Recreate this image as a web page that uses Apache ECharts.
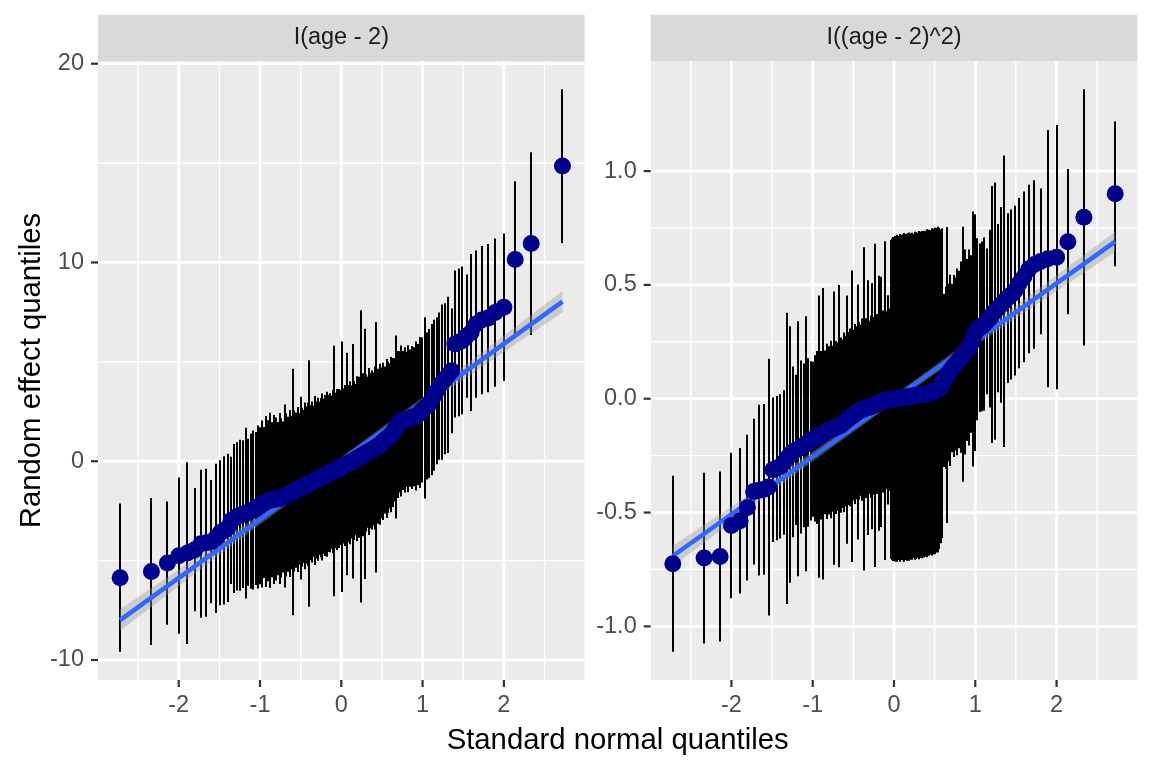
<!DOCTYPE html>
<html>
<head>
<meta charset="utf-8">
<script src="https://cdn.jsdelivr.net/npm/echarts@6/dist/echarts.min.js"></script>
<style>
html,body{margin:0;padding:0;background:#fff;}
#c{width:1152px;height:768px;}
</style>
</head>
<body>
<div id="c"></div>
<script>
// Theoretical normal quantiles (x positions shared by both panels)
const qx = [-2.721,-2.336,-2.139,-2.000,-1.893,-1.803,-1.727,-1.660,-1.597,-1.543,
-1.490,-1.444,-1.397,-1.357,-1.316,-1.279,-1.243,-1.208,-1.175,-1.144,
-1.112,-1.083,-1.055,-1.026,-0.998,-0.973,-0.947,-0.922,-0.896,-0.873,
-0.850,-0.826,-0.803,-0.781,-0.760,-0.738,-0.716,-0.695,-0.675,-0.655,
-0.635,-0.615,-0.595,-0.576,-0.557,-0.538,-0.519,-0.500,-0.482,-0.464,
-0.446,-0.428,-0.410,-0.392,-0.375,-0.358,-0.341,-0.323,-0.306,-0.289,
-0.272,-0.255,-0.239,-0.222,-0.205,-0.188,-0.172,-0.155,-0.139,-0.122,
-0.106,-0.090,-0.073,-0.057,-0.041,-0.024,-0.008,
0.008,0.024,0.041,0.057,0.073,0.090,0.106,0.122,0.139,0.155,
0.172,0.188,0.205,0.222,0.239,0.255,0.272,0.289,0.306,0.323,
0.341,0.358,0.375,0.392,0.410,0.428,0.446,0.464,0.482,0.500,
0.519,0.538,0.557,0.576,0.595,0.615,0.635,0.655,0.675,0.695,
0.716,0.738,0.760,0.781,0.803,0.826,0.850,0.873,0.896,0.922,
0.947,0.973,0.998,1.026,1.055,1.083,1.112,1.144,1.175,1.208,
1.243,1.279,1.316,1.357,1.397,1.444,1.490,1.543,1.597,1.660,
1.727,1.803,1.893,2.000,2.139,2.336,2.721];

// Panel 1: I(age - 2)
const ageY = [-5.86,-5.55,-5.12,-4.75,-4.62,-4.45,-4.15,-4.10,-4.05,-3.88,
-3.60,-3.48,-3.35,-2.98,-2.88,-2.77,-2.72,-2.66,-2.61,-2.57,
-2.52,-2.45,-2.38,-2.30,-2.24,-2.15,-2.08,-2.03,-1.99,-1.96,
-1.94,-1.92,-1.90,-1.88,-1.87,-1.85,-1.80,-1.75,-1.70,-1.66,
-1.62,-1.58,-1.55,-1.50,-1.46,-1.42,-1.39,-1.35,-1.31,-1.27,
-1.24,-1.20,-1.16,-1.12,-1.08,-1.04,-1.01,-0.97,-0.94,-0.90,
-0.86,-0.83,-0.79,-0.75,-0.72,-0.68,-0.65,-0.61,-0.58,-0.55,
-0.52,-0.49,-0.46,-0.42,-0.39,-0.36,-0.32,
-0.28,-0.24,-0.21,-0.17,-0.14,-0.11,-0.08,-0.04,0.00,0.04,
0.08,0.12,0.16,0.20,0.24,0.28,0.33,0.37,0.41,0.45,
0.49,0.53,0.57,0.62,0.66,0.70,0.75,0.80,0.86,0.92,
1.00,1.07,1.14,1.20,1.27,1.34,1.45,1.58,1.72,1.85,
1.98,2.02,2.05,2.08,2.11,2.14,2.17,2.20,2.24,2.28,
2.35,2.45,2.58,2.68,2.78,2.90,3.10,3.32,3.55,3.78,
3.98,4.15,4.35,4.55,5.90,5.98,6.08,6.30,6.48,6.90,
7.10,7.20,7.48,7.75,10.15,10.95,14.85];
const ageErr = [3.73,3.70,3.10,3.93,4.57,3.10,3.72,3.72,3.10,3.75,
3.65,3.73,3.73,3.20,3.75,3.73,3.80,3.72,4.30,3.70,
3.90,4.00,3.85,4.10,3.95,4.20,3.80,4.30,4.05,4.40,
3.90,4.25,4.10,3.85,4.30,4.00,3.80,4.60,4.10,3.90,
4.20,3.85,6.20,4.05,3.90,4.15,3.80,4.60,4.00,3.85,
4.20,3.95,4.10,6.20,3.90,4.05,3.80,4.25,3.95,4.10,
3.85,4.00,4.20,3.90,4.05,3.80,4.15,3.95,4.00,3.85,
4.10,6.30,3.90,4.05,3.80,4.00,3.90,
6.30,3.90,4.05,3.80,5.60,3.95,4.10,3.85,5.90,4.00,
3.80,4.15,3.90,4.05,7.35,3.85,4.10,6.30,3.95,3.80,
4.20,3.90,4.00,3.85,4.10,6.30,3.90,3.75,4.05,3.80,
3.95,3.70,4.00,3.80,3.65,3.90,3.75,3.60,4.60,3.70,
3.55,3.80,3.50,3.65,3.40,3.70,3.45,3.60,3.50,3.75,
3.55,3.80,3.65,4.56,3.70,3.75,3.80,
3.80,3.70,3.70,3.90,3.80,3.93,3.14,3.70,3.72,3.72,
3.10,3.95,3.70,3.73,3.73,3.73,3.71,3.94,4.60,3.87];

// Panel 2: I((age - 2)^2)
const age2Y = [-0.725,-0.700,-0.693,-0.557,-0.536,-0.478,-0.408,-0.402,-0.398,-0.388,
-0.312,-0.305,-0.297,-0.280,-0.262,-0.245,-0.233,-0.225,-0.220,-0.212,
-0.205,-0.198,-0.192,-0.185,-0.178,-0.174,-0.170,-0.166,-0.160,-0.154,
-0.148,-0.143,-0.139,-0.135,-0.132,-0.129,-0.126,-0.123,-0.120,-0.116,
-0.110,-0.104,-0.098,-0.092,-0.087,-0.082,-0.077,-0.072,-0.067,-0.062,
-0.058,-0.054,-0.051,-0.048,-0.045,-0.043,-0.041,-0.039,-0.037,-0.035,
-0.033,-0.031,-0.029,-0.026,-0.023,-0.020,-0.017,-0.014,-0.012,-0.010,
-0.008,-0.006,-0.005,-0.004,-0.003,-0.002,-0.001,
0.000,0.001,0.002,0.003,0.004,0.005,0.006,0.006,0.007,0.007,
0.008,0.009,0.010,0.011,0.012,0.013,0.014,0.015,0.016,0.017,
0.018,0.019,0.020,0.022,0.024,0.026,0.028,0.030,0.032,0.034,
0.037,0.040,0.046,0.055,0.068,0.080,0.092,0.104,0.115,0.125,
0.135,0.144,0.153,0.162,0.172,0.183,0.195,0.205,0.214,0.225,
0.240,0.262,0.290,0.305,0.312,0.318,0.328,0.340,0.352,0.370,
0.385,0.398,0.412,0.428,0.442,0.458,0.475,0.508,0.535,0.570,
0.590,0.603,0.615,0.622,0.690,0.797,0.900];
const age2Err = [0.387,0.375,0.373,0.320,0.320,0.320,0.320,0.375,0.375,0.564,
0.317,0.317,0.317,0.317,0.640,0.563,0.375,0.330,0.560,0.380,
0.360,0.560,0.370,0.350,0.340,0.365,0.380,0.620,0.370,0.640,
0.360,0.385,0.370,0.390,0.365,0.600,0.380,0.370,0.620,0.385,
0.370,0.395,0.375,0.545,0.380,0.390,0.640,0.375,0.395,0.380,
0.560,0.390,0.375,0.400,0.710,0.385,0.395,0.560,0.380,0.400,
0.540,0.390,0.710,0.380,0.395,0.560,0.385,0.550,0.400,0.385,
0.700,0.390,0.460,0.400,0.700,0.705,0.712,
0.715,0.710,0.718,0.712,0.720,0.714,0.716,0.722,0.715,0.719,
0.713,0.721,0.716,0.718,0.712,0.720,0.717,0.714,0.721,0.716,
0.719,0.713,0.718,0.715,0.720,0.716,0.712,0.719,0.715,0.717,
0.713,0.716,0.705,0.690,0.680,
0.380,0.400,0.650,0.390,0.420,0.370,0.400,0.380,0.410,0.390,
0.420,0.560,0.450,0.400,0.430,0.390,0.560,0.520,0.400,0.370,
0.373,0.380,0.320,0.390,0.565,0.565,0.370,0.430,0.640,0.373,
0.373,0.373,0.374,0.375,0.370,0.370,0.320,0.565,0.580,0.319,
0.563,0.318];

// Fitted (lm) reference lines, endpoints
const fitX = [-2.721, 2.721];
const ageFitY = [-7.99, 8.03];
const age2FitY = [-0.691, 0.690];
// Confidence ribbon half-width along the fit
const ribbonX = [-2.721, -2, -1, 0, 1, 2, 2.721];
const ageRibbon = [0.54, 0.42, 0.26, 0.19, 0.26, 0.42, 0.54];
const age2Ribbon = [0.045, 0.035, 0.022, 0.016, 0.022, 0.035, 0.045];

// Tick labels / gridlines
const xMajor = [-2, -1, 0, 1, 2];
const xMinor = [-2.5, -1.5, -0.5, 0.5, 1.5, 2.5];
const ageMajor = [-10, 0, 10, 20];
const ageMinor = [-5, 5, 15];
const age2Major = [-1.0, -0.5, 0.0, 0.5, 1.0];
const age2Minor = [-0.75, -0.25, 0.25, 0.75];

const panelTitles = ['I(age - 2)', 'I((age - 2)^2)'];
const xTitle = 'Standard normal quantiles';
const yTitle = 'Random effect quantiles';

const FONT = '"Liberation Sans", Arial, sans-serif';

function range(ys, es) {
  let lo = Infinity, hi = -Infinity;
  ys.forEach((y, i) => { lo = Math.min(lo, y - es[i]); hi = Math.max(hi, y + es[i]); });
  const pad = (hi - lo) * 0.05;
  return [lo - pad, hi + pad];
}
const xMaxAbs = Math.max(...qx.map(Math.abs));
const xr = [-(xMaxAbs * 1.1), xMaxAbs * 1.1];
const r1 = range(ageY, ageErr);
const r2 = range(age2Y, age2Err);

const GL = [98, 650.7], GW = 486.6, GT = 61, GH = 619;

// Gridlines of one panel, drawn as one group
function gridLines(idx, r, yMajor, yMinor) {
  return {type:'custom', xAxisIndex: idx, yAxisIndex: idx, silent:true, z: 1, clip:true,
    data: [[xr[0], r[0]]], encode:{x:0, y:1},
    renderItem: (p, api) => {
      const cs = p.coordSys;
      const kids = [];
      const addV = (v, w) => { const x = api.coord([v, r[0]])[0];
        kids.push({type:'line', shape:{x1:x, y1:cs.y, x2:x, y2:cs.y + cs.height}, style:{stroke:'#FFFFFF', lineWidth:w}}); };
      const addH = (v, w) => { const y = api.coord([xr[0], v])[1];
        kids.push({type:'line', shape:{x1:cs.x, y1:y, x2:cs.x + cs.width, y2:y}, style:{stroke:'#FFFFFF', lineWidth:w}}); };
      xMinor.forEach(v => addV(v, 1.4));
      yMinor.forEach(v => addH(v, 1.4));
      xMajor.forEach(v => addV(v, 2.8));
      yMajor.forEach(v => addH(v, 2.8));
      return {type:'group', children: kids};
    }};
}
// Axis tick marks outside the panel
function tickMarks(idx, r, yMajor) {
  return {type:'custom', xAxisIndex: idx, yAxisIndex: idx, silent:true, z: 1, clip:false,
    data: [[xr[0], r[0]]], encode:{x:0, y:1},
    renderItem: (p, api) => {
      const cs = p.coordSys;
      const kids = [];
      const st = {stroke:'#333333', lineWidth:2.2};
      xMajor.forEach(v => { const x = api.coord([v, r[0]])[0];
        kids.push({type:'line', shape:{x1:x, y1:cs.y + cs.height, x2:x, y2:cs.y + cs.height + 7}, style:st}); });
      yMajor.forEach(v => { const y = api.coord([xr[0], v])[1];
        kids.push({type:'line', shape:{x1:cs.x - 7, y1:y, x2:cs.x, y2:y}, style:st}); });
      return {type:'group', children: kids};
    }};
}
function bars(idx, ys, es) {
  return {type:'custom', xAxisIndex: idx, yAxisIndex: idx, silent:true, z: 3, clip:true,
    data: qx.map((x, i) => [x, ys[i], es[i]]), encode:{x:0, y:1},
    renderItem: (p, api) => {
      const x = api.value(0), y = api.value(1), h = api.value(2);
      const a = api.coord([x, y - h]), b = api.coord([x, y + h]);
      const px = Math.round(a[0]);
      return {type:'line', shape:{x1:px, y1:a[1], x2:px, y2:b[1]},
        style:{stroke:'#000000', lineWidth:2, lineCap:'butt'}};
    }};
}
function ribbon(idx, r, fy, half) {
  return {type:'custom', xAxisIndex: idx, yAxisIndex: idx, silent:true, z: 4, clip:true,
    data: [[xr[0], r[0]]], encode:{x:0, y:1},
    renderItem: (p, api) => {
      const slope = (fy[1] - fy[0]) / (fitX[1] - fitX[0]);
      const f = x => fy[0] + slope * (x - fitX[0]);
      const up = ribbonX.map((x, i) => api.coord([x, f(x) + half[i]]));
      const dn = ribbonX.map((x, i) => api.coord([x, f(x) - half[i]])).reverse();
      return {type:'polygon', shape:{points: up.concat(dn)},
        style:{fill:'rgba(153,153,153,0.4)'}};
    }};
}
function fitLine(idx, fy) {
  return {type:'line', xAxisIndex: idx, yAxisIndex: idx, silent:true, z: 5,
    data: fitX.map((x, i) => [x, fy[i]]), symbol:'none', showSymbol:false,
    lineStyle:{color:'#3366FF', width:4.5}};
}
function points(idx, ys) {
  return {type:'scatter', xAxisIndex: idx, yAxisIndex: idx, silent:true, z: 6,
    data: qx.map((x, i) => [x, ys[i]]), symbol:'circle', symbolSize:17,
    itemStyle:{color:'#00008B', opacity:1}};
}
function xAxisDef(idx) {
  return {type:'value', gridIndex: idx, min: xr[0], max: xr[1],
    axisLine:{show:false}, splitLine:{show:false}, axisTick:{show:false},
    axisLabel:{customValues: xMajor, color:'#4D4D4D', fontSize:23.5, fontFamily:FONT, margin:14,
      formatter: v => String(v)}};
}
function yAxisDef(idx, r, major, fmt) {
  return {type:'value', gridIndex: idx, min: r[0], max: r[1],
    axisLine:{show:false}, splitLine:{show:false}, axisTick:{show:false},
    axisLabel:{customValues: major, color:'#4D4D4D', fontSize:23.5, fontFamily:FONT, margin:14,
      formatter: fmt}};
}

const chart = echarts.init(document.getElementById('c'), null, {renderer:'canvas'});
const option = {
  animation:false,
  backgroundColor:'#FFFFFF',
  grid:[
    {left:GL[0], top:GT, width:GW, height:GH, show:true, backgroundColor:'#EBEBEB', borderWidth:0},
    {left:GL[1], top:GT, width:GW, height:GH, show:true, backgroundColor:'#EBEBEB', borderWidth:0}
  ],
  xAxis:[xAxisDef(0), xAxisDef(1)],
  yAxis:[
    yAxisDef(0, r1, ageMajor, v => String(v)),
    yAxisDef(1, r2, age2Major, v => Number(v).toFixed(1))
  ],
  series:[
    gridLines(0, r1, ageMajor, ageMinor), tickMarks(0, r1, ageMajor),
    bars(0, ageY, ageErr), ribbon(0, r1, ageFitY, ageRibbon), fitLine(0, ageFitY), points(0, ageY),
    gridLines(1, r2, age2Major, age2Minor), tickMarks(1, r2, age2Major),
    bars(1, age2Y, age2Err), ribbon(1, r2, age2FitY, age2Ribbon), fitLine(1, age2FitY), points(1, age2Y)
  ],
  graphic:[
    {type:'rect', left:GL[0], top:14.7, shape:{width:GW, height:GT - 14.7}, style:{fill:'#D9D9D9'}, silent:true},
    {type:'rect', left:GL[1], top:14.7, shape:{width:GW, height:GT - 14.7}, style:{fill:'#D9D9D9'}, silent:true},
    {type:'text', x:GL[0] + GW / 2, y:38, silent:true,
      style:{text:panelTitles[0], fill:'#1A1A1A', font:'23.5px ' + FONT, textAlign:'center', textVerticalAlign:'middle'}},
    {type:'text', x:GL[1] + GW / 2, y:38, silent:true,
      style:{text:panelTitles[1], fill:'#1A1A1A', font:'23.5px ' + FONT, textAlign:'center', textVerticalAlign:'middle'}},
    {type:'text', x:(GL[0] + GL[1] + GW) / 2, y:741, silent:true,
      style:{text:xTitle, fill:'#000000', font:'29.3px ' + FONT, textAlign:'center', textVerticalAlign:'middle'}},
    {type:'text', x:32, y:GT + GH / 2, rotation:Math.PI / 2, silent:true,
      style:{text:yTitle, fill:'#000000', font:'29.3px ' + FONT, textAlign:'center', textVerticalAlign:'middle'}}
  ]
};
chart.setOption(option);
</script>
</body>
</html>
